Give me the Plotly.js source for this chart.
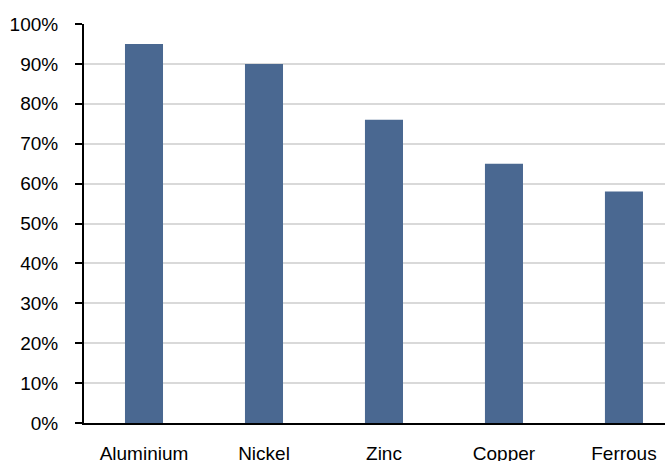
<!DOCTYPE html>
<html>
<head>
<meta charset="utf-8">
<script src="https://cdn.plot.ly/plotly-3.0.1.min.js"></script>
<style>html,body{margin:0;padding:0;background:#fff;}#chart{width:665px;height:461px;}</style>
</head>
<body>
<div id="chart"></div>
<script>
const categories = ['Aluminium', 'Nickel', 'Zinc', 'Copper', 'Ferrous'];
const values = [0.95, 0.90, 0.76, 0.65, 0.58];
const yTickVals = [0, 0.1, 0.2, 0.3, 0.4, 0.5, 0.6, 0.7, 0.8, 0.9, 1.0];

const fontFamily = '"Liberation Sans", Arial, sans-serif';

Plotly.newPlot('chart', [{
  type: 'bar',
  x: categories,
  y: values,
  marker: {color: '#4a6891', line: {width: 0}},
  hoverinfo: 'skip'
}], {
  width: 665,
  height: 461,
  margin: {l: 84, r: 0, t: 24, b: 38, pad: 0},
  paper_bgcolor: '#ffffff',
  plot_bgcolor: '#ffffff',
  bargap: 0.683,
  showlegend: false,
  font: {family: fontFamily, size: 19, color: '#000000'},
  xaxis: {
    type: 'category',
    range: [-0.5, 4.342],
    showline: true,
    linecolor: '#000000',
    linewidth: 2,
    ticks: '',
    showgrid: false,
    zeroline: false,
    ticklabelstandoff: 12,
    tickfont: {family: fontFamily, size: 19, color: '#000000'},
    fixedrange: true
  },
  yaxis: {
    range: [0, 1.0],
    tickvals: yTickVals,
    tickformat: '.0%',
    showline: true,
    linecolor: '#000000',
    linewidth: 2,
    ticks: 'outside',
    ticklen: 7,
    tickwidth: 2,
    tickcolor: '#000000',
    showgrid: true,
    gridcolor: '#d9d9d9',
    gridwidth: 2,
    zeroline: false,
    ticklabelstandoff: 13,
    tickfont: {family: fontFamily, size: 19, color: '#000000'},
    fixedrange: true
  }
}, {displayModeBar: false, staticPlot: true});
</script>
</body>
</html>
